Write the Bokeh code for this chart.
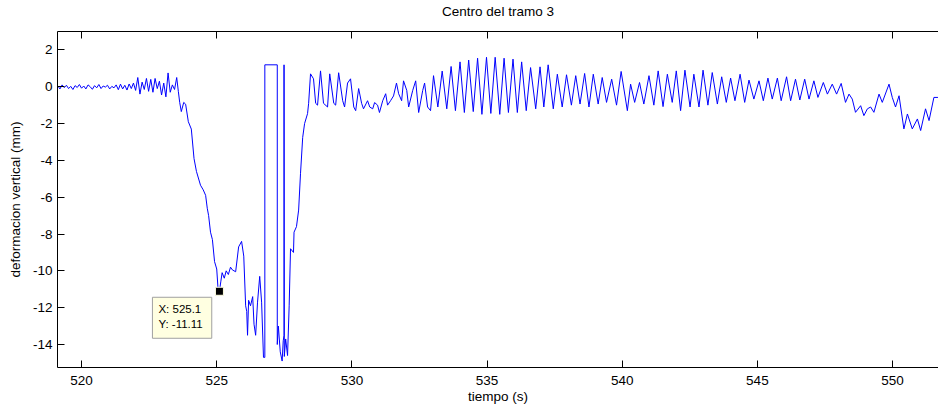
from bokeh.plotting import figure
from bokeh.models import LinearAxis, FixedTicker, Range1d, Label
from bokeh.embed import file_html
from bokeh.resources import INLINE

# ---------------- data ----------------
pre_t = [519.12, 519.20, 519.28, 519.36, 519.44, 519.52, 519.60, 519.68, 519.76, 519.84,
         519.92, 520.00, 520.08, 520.16, 520.24, 520.32, 520.40, 520.48, 520.56, 520.64,
         520.72, 520.80, 520.88, 520.96, 521.04, 521.12, 521.20, 521.28, 521.36, 521.44,
         521.52, 521.60, 521.68, 521.76, 521.84, 521.92, 522.00, 522.08, 522.16, 522.24,
         522.32, 522.40, 522.48, 522.56, 522.64, 522.72, 522.80, 522.88, 522.96, 523.04,
         523.12, 523.20, 523.28, 523.36, 523.44, 523.52]
pre_y = [0.05, -0.12, 0.10, -0.05, 0.08, -0.10, 0.02, -0.15, 0.06, -0.04,
         0.12, -0.08, 0.04, -0.12, 0.10, 0.00, -0.14, 0.06, -0.06, 0.12,
         -0.10, 0.04, -0.02, 0.08, -0.12, 0.02, -0.06, 0.10, -0.16, 0.14,
         -0.12, 0.08, -0.18, 0.15, -0.10, 0.20, -0.20, 0.50, -0.40, 0.25,
         -0.15, 0.45, -0.25, 0.40, -0.30, 0.45, -0.10, 0.30, -0.45, 0.20,
         -0.55, 0.75, -0.30, 0.10, -0.15, 0.50]

fall_t = [523.58, 523.63, 523.69, 523.78, 523.85, 523.95, 524.06, 524.16, 524.25, 524.40,
          524.50, 524.59, 524.65, 524.70, 524.77, 524.84, 524.92, 525.00, 525.05, 525.10,
          525.15, 525.20, 525.28, 525.35, 525.43, 525.51]
fall_y = [-0.25, -0.85, -1.35, -0.85, -0.95, -1.9, -2.3, -3.9, -4.6, -5.35,
          -5.6, -5.9, -6.6, -7.0, -7.9, -8.3, -9.5, -9.9, -11.0, -11.11,
          -10.6, -10.1, -10.4, -10.0, -10.2, -9.8]

low_t = [525.58, 525.70, 525.81, 525.92, 526.00, 526.07, 526.11, 526.14, 526.18, 526.25,
         526.33, 526.38, 526.44, 526.51, 526.59, 526.66, 526.73, 526.78, 526.78, 527.24,
         527.24, 527.28, 527.35, 527.42, 527.46, 527.49, 527.49, 527.50, 527.55, 527.62,
         527.68, 527.73, 527.84, 527.86, 527.95, 528.03, 528.10, 528.18, 528.25, 528.36,
         528.40]
low_y = [-9.95, -10.05, -8.7, -8.4, -9.2, -11.9, -12.2, -13.5, -11.6, -11.9,
         -11.4, -12.9, -13.5, -11.7, -10.3, -11.7, -14.7, -14.7, 1.19, 1.19,
         -14.0, -13.0, -14.4, -14.9, -13.8, -13.5, 1.19, -14.65, -13.7, -14.6,
         -11.9, -8.8, -9.0, -7.9, -7.6, -6.7, -4.7, -2.75, -2.0, -1.46,
         -0.9]

osc1_t = [528.47, 528.58, 528.66, 528.73, 528.84, 528.95, 529.10, 529.18, 529.33, 529.40,
          529.51, 529.66, 529.73, 529.84, 529.95, 530.07, 530.14, 530.25, 530.36, 530.43,
          530.58, 530.66, 530.77, 530.84, 530.95, 531.02, 531.14, 531.25, 531.32, 531.43,
          531.54, 531.65, 531.73, 531.84, 531.91, 532.03, 532.10, 532.25, 532.36, 532.47,
          532.62, 532.69, 532.80, 532.91]
osc1_y = [0.7, 0.43, -0.9, -1.0, 0.86, -0.9, -1.1, 0.7, -0.9, -1.0,
          0.76, -0.76, -1.1, 0.2, 0.43, -1.1, -1.3, -0.1, -0.9, -1.2,
          -0.76, -1.1, -1.2, -0.86, -1.0, -1.4, -0.76, -0.38, -1.0, -0.76,
          -0.5, 0.2, -0.38, -0.76, 0.32, -0.2, -1.1, -0.2, 0.32, -1.4,
          -0.2, 0.2, -1.1, -1.3]

osc2_t = [533.02, 533.18, 533.34, 533.51, 533.67, 533.83, 534.00, 534.16, 534.32, 534.49,
          534.65, 534.81, 534.98, 535.14, 535.30, 535.47, 535.63, 535.79, 535.96, 536.12,
          536.28, 536.45]
osc2_y = [0.6, -1.1, 0.85, -1.2, 1.1, -1.3, 1.35, -1.4, 1.45, -1.35,
          1.55, -1.5, 1.6, -1.45, 1.6, -1.5, 1.55, -1.4, 1.5, -1.4,
          1.35, -1.3]

osc3_t = [536.61, 536.80, 536.96, 537.10, 537.26, 537.45, 537.60, 537.78, 537.94, 538.12,
          538.28, 538.44, 538.61, 538.77, 538.93, 539.11, 539.26, 539.42, 539.61, 539.79,
          539.96, 540.19, 540.31, 540.46, 540.64, 540.80, 540.99, 541.17, 541.33, 541.51,
          541.67, 541.85, 542.00, 542.16, 542.32, 542.51, 542.65, 542.84, 542.99, 543.17,
          543.33, 543.52, 543.68, 543.85, 544.01, 544.17, 544.36, 544.53, 544.69, 544.87,
          545.06, 545.22, 545.39, 545.55, 545.74, 545.88, 546.08, 546.23, 546.41, 546.57,
          546.75, 546.91, 547.09, 547.24, 547.44, 547.59, 547.77, 547.93, 548.10, 548.26,
          548.39, 548.51, 548.63, 548.82, 548.94, 549.07, 549.19, 549.31, 549.50, 549.62,
          549.87, 549.99, 550.11, 550.24, 550.42, 550.55, 550.73, 550.92, 551.04, 551.22,
          551.35, 551.53, 551.68]
osc3_y = [1.04, -1.2, 1.08, -1.1, 1.19, -1.2, 0.68, -1.1, 0.65, -1.0,
          0.6, -0.94, 0.72, -1.1, 0.68, -0.94, 0.5, -0.85, 0.41, -1.0,
          0.83, -1.3, 0.14, -0.85, 0.23, -0.94, 0.6, -1.0, 0.86, -1.08,
          0.68, -0.85, 0.86, -1.3, 0.9, -1.1, 0.68, -1.1, 0.9, -1.0,
          0.77, -0.94, 0.54, -0.85, 0.47, -0.76, 0.68, -0.85, 0.36, -0.67,
          0.32, -0.76, 0.47, -0.67, 0.47, -0.76, 0.54, -0.76, 0.41, -0.72,
          0.41, -0.67, 0.32, -0.58, 0.23, -0.4, 0.14, -0.4, 0.18, -0.85,
          -0.4, -0.67, -1.39, -1.03, -1.57, -1.2, -1.1, -1.39, -0.4, -0.85,
          0.14, -0.58, -1.1, -0.49, -2.29, -1.48, -2.29, -1.75, -2.38, -1.2,
          -1.84, -0.58, -0.58]

signal_t = pre_t + fall_t + low_t + osc1_t + osc2_t + osc3_t
signal_y = pre_y + fall_y + low_y + osc1_y + osc2_y + osc3_y

tip_x = [525.1]
tip_y = [-11.11]
tip_text = "X: 525.1\nY: -11.11"

x_ticks = [520, 525, 530, 535, 540, 545, 550]
x_tick_labels = ["520", "525", "530", "535", "540", "545", "550"]
y_ticks = [-14, -12, -10, -8, -6, -4, -2, 0, 2]
y_tick_labels = ["-14", "-12", "-10", "-8", "-6", "-4", "-2", "0", "2"]

title_text = "Centro del tramo 3"
x_label = "tiempo (s)"
y_label = "deformacion vertical (mm)"

FONT = "Liberation Sans"
FS = "13.5px"

xr = Range1d(519.11, 551.70)
yr = Range1d(-15.25, 3.0)

p = figure(width=938, height=407, output_backend="svg", toolbar_location=None,
           x_range=xr, y_range=yr,
           min_border_left=57, min_border_right=0, min_border_top=31, min_border_bottom=40)
p.outline_line_color = None
p.grid.visible = False
p.background_fill_color = "white"
p.border_fill_color = "white"

for ax in (p.xaxis[0], p.yaxis[0]):
    ax.major_label_text_font = FONT
    ax.major_label_text_font_size = FS
    ax.major_label_text_color = "black"
    ax.axis_label_text_font = FONT
    ax.axis_label_text_font_size = FS
    ax.axis_label_text_font_style = "normal"
    ax.axis_label_text_color = "black"
    ax.axis_line_color = "black"
    ax.major_tick_line_color = "black"
    ax.major_tick_in = 7
    ax.major_tick_out = 0
    ax.minor_tick_line_color = None

p.xaxis[0].ticker = FixedTicker(ticks=x_ticks)
p.xaxis[0].major_label_overrides = dict(zip(x_ticks, x_tick_labels))
p.yaxis[0].ticker = FixedTicker(ticks=y_ticks)
p.yaxis[0].major_label_overrides = dict(zip(y_ticks, y_tick_labels))
p.xaxis[0].axis_label = x_label
p.yaxis[0].axis_label = y_label
p.xaxis[0].major_label_standoff = 8
p.xaxis[0].axis_label_standoff = 1
p.yaxis[0].major_label_standoff = 5
p.yaxis[0].axis_label_standoff = 7

# top box edge with inward ticks; its label carries the chart title
top = LinearAxis(ticker=FixedTicker(ticks=x_ticks), major_label_text_font_size="1px",
                 major_label_text_color=None,
                 major_tick_in=7, major_tick_out=0, minor_tick_line_color=None,
                 axis_line_color="black", major_tick_line_color="black",
                 major_label_standoff=0,
                 axis_label=title_text, axis_label_standoff=13,
                 axis_label_text_font=FONT, axis_label_text_font_size=FS,
                 axis_label_text_font_style="normal", axis_label_text_color="black")
p.add_layout(top, "above")

p.line(signal_t, signal_y, line_color="#0000FF", line_width=1)

p.scatter(tip_x, tip_y, marker="square", size=8, fill_color="black", line_color="#FFFFE1", line_width=1)

lbl = Label(x=tip_x[0], y=tip_y[0], text=tip_text, x_offset=-67, y_offset=-6,
            text_align="left", text_baseline="top", text_font=FONT, text_font_size="11.5px",
            text_color="black", text_line_height=1.25,
            padding=dict(left=6, right=9, top=6, bottom=8),
            background_fill_color="#FFFFE1", border_line_color="#A0A0A0", border_line_width=1)
p.add_layout(lbl)

open("out.html", "w").write(file_html(p, INLINE))
